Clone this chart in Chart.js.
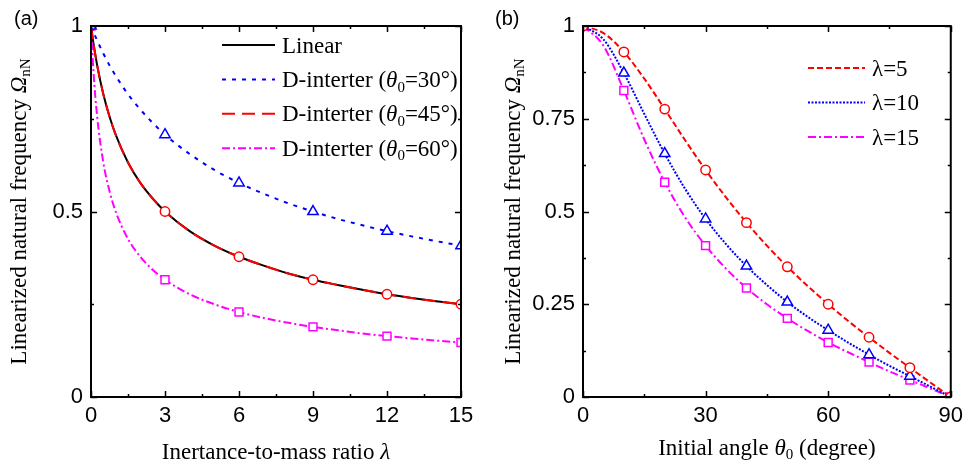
<!DOCTYPE html>
<html>
<head>
<meta charset="utf-8">
<script src="https://cdn.jsdelivr.net/npm/chart.js@4.4.1/dist/chart.umd.min.js"></script>
<style>
  html, body { margin: 0; padding: 0; background: #fff; }
  #wrap { position: relative; width: 969px; height: 468px; }
  canvas { position: absolute; top: 0; }
  #chart-a { left: 0; }
  #chart-b { left: 484px; }
</style>
</head>
<body>
<div id="wrap">
  <canvas id="chart-a" width="484" height="468"></canvas>
  <canvas id="chart-b" width="485" height="468"></canvas>
</div>
<script>
// ---- panel (a): natural frequency vs inertance-to-mass ratio ----
const lambdaA = [0, 0.1, 0.25, 0.5, 0.75, 1, 1.5, 2, 2.5, 3, 4, 5, 6, 7, 8, 9, 10, 11, 12, 13, 14, 15];
const linearA = [1, 0.953, 0.894, 0.816, 0.756, 0.707, 0.632, 0.577, 0.535, 0.5, 0.447, 0.408, 0.378, 0.354, 0.333, 0.316, 0.302, 0.289, 0.277, 0.267, 0.258, 0.25];
const theta30A = [1, 0.984, 0.961, 0.926, 0.894, 0.866, 0.816, 0.775, 0.739, 0.707, 0.655, 0.612, 0.577, 0.548, 0.522, 0.5, 0.48, 0.463, 0.447, 0.433, 0.42, 0.408];
const theta45A = [1, 0.953, 0.894, 0.816, 0.756, 0.707, 0.632, 0.577, 0.535, 0.5, 0.447, 0.408, 0.378, 0.354, 0.333, 0.316, 0.302, 0.289, 0.277, 0.267, 0.258, 0.25];
const theta60A = [1, 0.877, 0.756, 0.632, 0.555, 0.5, 0.426, 0.378, 0.343, 0.316, 0.277, 0.25, 0.229, 0.213, 0.2, 0.189, 0.18, 0.171, 0.164, 0.158, 0.152, 0.147];
const markersA = [0, 3, 6, 9, 12, 15];
const xTicksA = [0, 3, 6, 9, 12, 15];
const xMinorA = [1.5, 4.5, 7.5, 10.5, 13.5];
const yTicksA = [0, 0.5, 1];
const yLabelsA = ['0', '0.5', '1'];
const yMinorA = [0.25, 0.75];

// ---- panel (b): natural frequency vs initial angle ----
const thetaB = [0, 5, 10, 15, 20, 25, 30, 35, 40, 45, 50, 55, 60, 65, 70, 75, 80, 85, 90];
const lam5B = [1, 0.981, 0.93, 0.858, 0.776, 0.692, 0.612, 0.538, 0.47, 0.408, 0.351, 0.299, 0.25, 0.204, 0.161, 0.119, 0.079, 0.039, 0];
const lam10B = [1, 0.964, 0.873, 0.763, 0.656, 0.561, 0.48, 0.412, 0.353, 0.302, 0.256, 0.216, 0.18, 0.146, 0.114, 0.084, 0.056, 0.028, 0];
const lam15B = [1, 0.947, 0.826, 0.694, 0.579, 0.484, 0.408, 0.346, 0.294, 0.25, 0.212, 0.178, 0.147, 0.12, 0.094, 0.069, 0.046, 0.023, 0];
const markersB = [0, 10, 20, 30, 40, 50, 60, 70, 80, 90];
const xTicksB = [0, 30, 60, 90];
const xMinorB = [15, 45, 75];
const yTicksB = [0, 0.25, 0.5, 0.75, 1];
const yLabelsB = ['0', '0.25', '0.5', '0.75', '1'];
const yMinorB = [0.125, 0.375, 0.625, 0.875];

const serif = '"Liberation Serif", "Times New Roman", serif';
const sans = '"Liberation Sans", Arial, sans-serif';

// text pieces: [text, kind]  kind: '' normal, 'i' italic, 's' subscript
function richWidth(ctx, parts, size) {
  let w = 0;
  parts.forEach(([t, k]) => { ctx.font = fontFor(k, size); w += ctx.measureText(t).width; });
  return w;
}
function fontFor(k, size) {
  if (k === 's') return Math.round(size * 0.65) + 'px ' + serif;
  if (k === 'i') return 'italic ' + size + 'px ' + serif;
  return size + 'px ' + serif;
}
function drawRich(ctx, parts, x, yMid, size, align) {
  let cx = align === 'center' ? x - richWidth(ctx, parts, size) / 2 : x;
  const base = yMid + size * 0.33;
  ctx.textAlign = 'left';
  ctx.textBaseline = 'alphabetic';
  parts.forEach(([t, k]) => {
    ctx.font = fontFor(k, size);
    ctx.fillText(t, cx, k === 's' ? base + size * 0.2 : base);
    cx += ctx.measureText(t).width;
  });
}

const decor = {
  id: 'decor',
  afterDraw(chart, args, o) {
    const { ctx, chartArea: a, scales: { x, y } } = chart;
    ctx.save();
    ctx.fillStyle = '#000';
    ctx.strokeStyle = '#000';

    // inward ticks on all four sides
    ctx.lineWidth = 1.5;
    ctx.beginPath();
    const xt = (vals, len) => vals.forEach(v => {
      const px = Math.round(x.getPixelForValue(v)) + 0.5;
      ctx.moveTo(px, a.bottom); ctx.lineTo(px, a.bottom - len);
      ctx.moveTo(px, a.top); ctx.lineTo(px, a.top + len);
    });
    const yt = (vals, len) => vals.forEach(v => {
      const py = Math.round(y.getPixelForValue(v)) + 0.5;
      ctx.moveTo(a.left, py); ctx.lineTo(a.left + len, py);
      ctx.moveTo(a.right, py); ctx.lineTo(a.right - len, py);
    });
    xt(o.xMajor, 6); xt(o.xMinor, 3);
    yt(o.yMajor, 6); yt(o.yMinor, 3);
    ctx.stroke();

    // frame
    ctx.lineWidth = 2;
    ctx.strokeRect(a.left, a.top, a.right - a.left, a.bottom - a.top);

    // axis titles
    drawRich(ctx, o.xTitle, (a.left + a.right) / 2, o.xTitleY, 23, 'center');
    ctx.save();
    ctx.translate(o.yTitleX, (a.top + a.bottom) / 2);
    ctx.rotate(-Math.PI / 2);
    drawRich(ctx, o.yTitle, 0, 0, 23, 'center');
    ctx.restore();

    // legend
    chart.data.datasets.forEach((ds, i) => {
      const ly = o.legendY + i * o.legendGap;
      ctx.save();
      ctx.strokeStyle = ds.borderColor;
      ctx.lineWidth = ds.borderWidth;
      ctx.setLineDash(ds.borderDash || []);
      ctx.beginPath();
      ctx.moveTo(o.legendX1, ly); ctx.lineTo(o.legendX2, ly);
      ctx.stroke();
      ctx.restore();
      drawRich(ctx, o.legendText[i], o.legendX2 + 7, ly, 23, 'left');
    });

    // panel label
    ctx.font = '20px ' + sans;
    ctx.textAlign = 'left';
    ctx.textBaseline = 'middle';
    ctx.fillText(o.panel, o.panelX, 19);
    ctx.restore();
  }
};

function series(xs, ys, color, dash, style, radius, marks, order) {
  return {
    data: xs.map((v, i) => ({ x: v, y: ys[i] })),
    borderColor: color,
    borderWidth: 2,
    borderDash: dash,
    cubicInterpolationMode: 'monotone',
    pointStyle: style,
    pointRadius: c => (c.raw && marks.includes(c.raw.x)) ? radius : 0,
    pointBorderColor: color,
    pointBackgroundColor: '#fff',
    pointBorderWidth: 1.5,
    order: order
  };
}

function makeChart(canvas, datasets, cfg) {
  return new Chart(canvas, {
    type: 'line',
    data: { datasets },
    options: {
      responsive: false,
      animation: false,
      events: [],
      layout: { padding: { left: 0, top: 26, right: cfg.padRight, bottom: 0 } },
      plugins: { legend: { display: false }, tooltip: { enabled: false }, decor: cfg.decor },
      scales: {
        x: {
          type: 'linear', min: cfg.xTicks[0], max: cfg.xTicks[cfg.xTicks.length - 1],
          grid: { display: false, drawTicks: false }, border: { display: false },
          afterBuildTicks: s => { s.ticks = cfg.xTicks.map(v => ({ value: v })); },
          afterFit: s => { s.height = 71; },
          ticks: { color: '#000', padding: 6, maxRotation: 0, font: { family: sans, size: 22 },
                   callback: v => String(v) }
        },
        y: {
          type: 'linear', min: 0, max: 1,
          grid: { display: false, drawTicks: false }, border: { display: false },
          afterBuildTicks: s => { s.ticks = cfg.yTicks.map(v => ({ value: v })); },
          afterFit: s => { s.width = cfg.yWidth; },
          ticks: { color: '#000', padding: 8, font: { family: sans, size: 22 },
                   callback: (v, i) => cfg.yLabels[i] }
        }
      }
    },
    plugins: [decor]
  });
}

const yTitle = [['Linearized natural frequency ', ''], ['\u03A9', 'i'], ['nN', 's']];

makeChart(document.getElementById('chart-a'), [
  series(lambdaA, linearA, '#000000', [], 'circle', 0, [], 1),
  series(lambdaA, theta30A, '#0000ff', [4, 6], 'triangle', 6, markersA, 0),
  series(lambdaA, theta45A, '#ff0000', [13, 7], 'circle', 4.7, markersA, 0),
  series(lambdaA, theta60A, '#ff00ff', [8, 3, 2, 3], 'rect', 5.6, markersA, 0)
], {
  padRight: 23, yWidth: 91, xTicks: xTicksA, yTicks: yTicksA, yLabels: yLabelsA,
  decor: {
    xMajor: xTicksA, xMinor: xMinorA, yMajor: yTicksA, yMinor: yMinorA,
    xTitle: [['Inertance-to-mass ratio ', ''], ['\u03BB', 'i']], xTitleY: 451,
    yTitle: yTitle, yTitleX: 18,
    legendX1: 222, legendX2: 275, legendY: 45, legendGap: 34.4,
    legendText: [
      [['Linear', '']],
      [['D-interter (', ''], ['\u03B8', 'i'], ['0', 's'], ['=30\u00B0)', '']],
      [['D-interter (', ''], ['\u03B8', 'i'], ['0', 's'], ['=45\u00B0)', '']],
      [['D-interter (', ''], ['\u03B8', 'i'], ['0', 's'], ['=60\u00B0)', '']]
    ],
    panel: '(a)', panelX: 14
  }
});

makeChart(document.getElementById('chart-b'), [
  series(thetaB, lam5B, '#ff0000', [6, 3], 'circle', 4.7, markersB, 0),
  series(thetaB, lam10B, '#0000ff', [2, 1.5], 'triangle', 6, markersB, 0),
  series(thetaB, lam15B, '#ff00ff', [8, 3, 2, 3], 'rect', 5.6, markersB, 0)
], {
  padRight: 16, yWidth: 99, xTicks: xTicksB, yTicks: yTicksB, yLabels: yLabelsB,
  decor: {
    xMajor: xTicksB, xMinor: xMinorB, yMajor: yTicksB, yMinor: yMinorB,
    xTitle: [['Initial angle ', ''], ['\u03B8', 'i'], ['0', 's'], [' (degree)', '']], xTitleY: 447,
    yTitle: yTitle, yTitleX: 28,
    legendX1: 324, legendX2: 381, legendY: 68, legendGap: 34.5,
    legendText: [
      [['\u03BB=5', '']],
      [['\u03BB=10', '']],
      [['\u03BB=15', '']]
    ],
    panel: '(b)', panelX: 11
  }
});
</script>
</body>
</html>
